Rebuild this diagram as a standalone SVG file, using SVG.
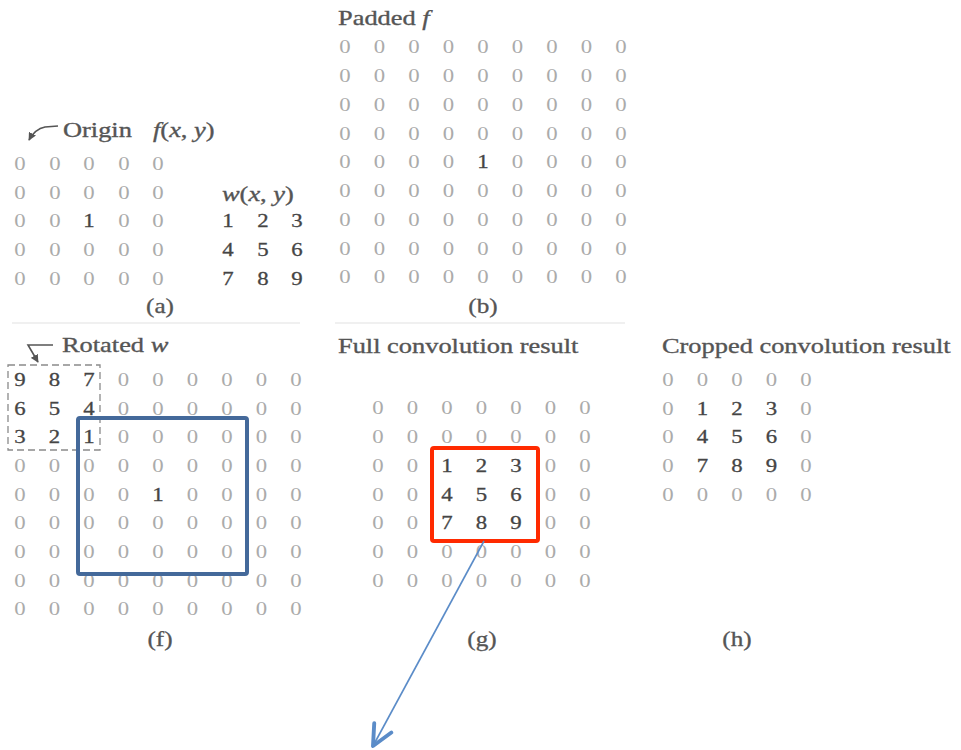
<svg xmlns="http://www.w3.org/2000/svg" width="961" height="750" viewBox="0 0 961 750">
  <style>
    text { font-family: "Liberation Serif", "Times New Roman", serif; }
    .g { font-size: 19px; text-anchor: middle; fill: #ababab; }
    .z { fill: #ababab; }
    .d { fill: #454545; stroke: #454545; stroke-width: 0.3; }
    .lbl { fill: #555555; stroke: #555555; stroke-width: 0.35; font-size: 22px; }
    .cap { fill: #555555; stroke: #555555; stroke-width: 0.3; font-size: 21px; text-anchor: middle; }
    .it { font-style: italic; }
    .dash { fill: none; stroke: #8a8a8a; stroke-width: 1.3; stroke-dasharray: 7 4; }
    .pointer { fill: none; stroke: #555; stroke-width: 1.6; }
  </style>
  <defs>
    <marker id="tip" viewBox="0 0 10 10" refX="9" refY="5" markerWidth="8" markerHeight="8" markerUnits="userSpaceOnUse" orient="auto">
      <path d="M0,0 L10,5 L0,10 Z" fill="#555"/>
    </marker>
    <marker id="vee" viewBox="0 0 12 12" refX="11" refY="6" markerWidth="26" markerHeight="26" markerUnits="userSpaceOnUse" orient="auto">
      <path d="M1.5,1.5 L11,6 L1.5,10.5" fill="none" stroke="#5b8cc8" stroke-width="1.8" stroke-linecap="round" stroke-linejoin="round"/>
    </marker>
  </defs>
  <rect width="961" height="750" fill="#ffffff"/>

  <!-- faint rule between the two rows of panels -->
  <line x1="12" y1="323" x2="300" y2="323" stroke="#f0f0f0" stroke-width="2"/>
  <line x1="335" y1="323" x2="625" y2="323" stroke="#f0f0f0" stroke-width="2"/>

  <!-- (a) f(x,y) and w(x,y) -->
  <g id="panel-a">
    <path class="pointer" d="M58,126 L45,127 Q35,129 29,140" marker-end="url(#tip)"/>
    <g transform="scale(1.2 1)">
      <text class="lbl" x="52.5" y="137">Origin</text>
      <text class="lbl" x="127.5" y="137"><tspan class="it">f</tspan>(<tspan class="it">x</tspan>, <tspan class="it">y</tspan>)</text>
      <text class="g" x="16.67 45.83 74.17 103.33 131.67" y="170.5">00000</text>
      <text class="g" x="16.67 45.83 74.17 103.33 131.67" y="199.5">00000</text>
      <text class="g" y="227.5"><tspan class="z" x="16.67 45.83">00</tspan><tspan class="d" x="74.17">1</tspan><tspan class="z" x="103.33 131.67">00</tspan></text>
      <text class="g" x="16.67 45.83 74.17 103.33 131.67" y="256.5">00000</text>
      <text class="g" x="16.67 45.83 74.17 103.33 131.67" y="285.5">00000</text>
      <text class="lbl" x="185" y="201"><tspan class="it">w</tspan>(<tspan class="it">x</tspan>, <tspan class="it">y</tspan>)</text>
      <text class="g" y="227.5"><tspan class="d" x="190 219.17 247.5">123</tspan></text>
      <text class="g" y="256.5"><tspan class="d" x="190 219.17 247.5">456</tspan></text>
      <text class="g" y="285.5"><tspan class="d" x="190 219.17 247.5">789</tspan></text>
      <text class="cap" x="133.33" y="313">(a)</text>
    </g>
  </g>

  <!-- (b) padded f -->
  <g id="panel-b">
    <g transform="scale(1.2 1)">
      <text class="lbl" x="281.67" y="25">Padded <tspan class="it">f</tspan></text>
      <text class="g" x="287.5 316.25 345 373.75 402.5 431.25 460 488.75 517.5" y="53.5">000000000</text>
      <text class="g" x="287.5 316.25 345 373.75 402.5 431.25 460 488.75 517.5" y="82.25">000000000</text>
      <text class="g" x="287.5 316.25 345 373.75 402.5 431.25 460 488.75 517.5" y="111">000000000</text>
      <text class="g" x="287.5 316.25 345 373.75 402.5 431.25 460 488.75 517.5" y="139.75">000000000</text>
      <text class="g" y="168.5"><tspan class="z" x="287.5 316.25 345 373.75">0000</tspan><tspan class="d" x="402.5">1</tspan><tspan class="z" x="431.25 460 488.75 517.5">0000</tspan></text>
      <text class="g" x="287.5 316.25 345 373.75 402.5 431.25 460 488.75 517.5" y="197.25">000000000</text>
      <text class="g" x="287.5 316.25 345 373.75 402.5 431.25 460 488.75 517.5" y="226">000000000</text>
      <text class="g" x="287.5 316.25 345 373.75 402.5 431.25 460 488.75 517.5" y="254.75">000000000</text>
      <text class="g" x="287.5 316.25 345 373.75 402.5 431.25 460 488.75 517.5" y="283.5">000000000</text>
      <text class="cap" x="402.5" y="313">(b)</text>
    </g>
  </g>

  <!-- (f) rotated w over padded f -->
  <g id="panel-f">
    <path class="pointer" d="M53,345 L28,345 L38,362" marker-end="url(#tip)"/>
    <rect class="dash" x="8" y="365" width="92" height="85"/>
    <g transform="scale(1.2 1)">
      <text class="lbl" x="51.67" y="352">Rotated <tspan class="it">w</tspan></text>
      <text class="g" y="386.5"><tspan class="d" x="16.67 45.42 74.17">987</tspan><tspan class="z" x="102.92 131.67 160.42 189.17 217.92 246.67">000000</tspan></text>
      <text class="g" y="415.5"><tspan class="d" x="16.67 45.42 74.17">654</tspan><tspan class="z" x="102.92 131.67 160.42 189.17 217.92 246.67">000000</tspan></text>
      <text class="g" y="443.5"><tspan class="d" x="16.67 45.42 74.17">321</tspan><tspan class="z" x="102.92 131.67 160.42 189.17 217.92 246.67">000000</tspan></text>
      <text class="g" x="16.67 45.42 74.17 102.92 131.67 160.42 189.17 217.92 246.67" y="472.5">000000000</text>
      <text class="g" y="501.5"><tspan class="z" x="16.67 45.42 74.17 102.92">0000</tspan><tspan class="d" x="131.67">1</tspan><tspan class="z" x="160.42 189.17 217.92 246.67">0000</tspan></text>
      <text class="g" x="16.67 45.42 74.17 102.92 131.67 160.42 189.17 217.92 246.67" y="529.5">000000000</text>
      <text class="g" x="16.67 45.42 74.17 102.92 131.67 160.42 189.17 217.92 246.67" y="558.5">000000000</text>
      <text class="g" x="16.67 45.42 74.17 102.92 131.67 160.42 189.17 217.92 246.67" y="587.5">000000000</text>
      <text class="g" x="16.67 45.42 74.17 102.92 131.67 160.42 189.17 217.92 246.67" y="615.5">000000000</text>
      <text class="cap" x="133.33" y="646">(f)</text>
    </g>
    <rect x="78" y="418" width="169" height="156" rx="2" fill="none" stroke="#44699a" stroke-width="4"/>
  </g>

  <!-- (g) full convolution result -->
  <g id="panel-g">
    <g transform="scale(1.2 1)">
      <text class="lbl" x="281.67" y="353">Full convolution result</text>
      <text class="g" x="315 343.75 372.5 401.25 430 458.75 487.5" y="414.5">0000000</text>
      <text class="g" x="315 343.75 372.5 401.25 430 458.75 487.5" y="443.5">0000000</text>
      <text class="g" y="472.5"><tspan class="z" x="315 343.75">00</tspan><tspan class="d" x="372.5 401.25 430">123</tspan><tspan class="z" x="458.75 487.5">00</tspan></text>
      <text class="g" y="501.5"><tspan class="z" x="315 343.75">00</tspan><tspan class="d" x="372.5 401.25 430">456</tspan><tspan class="z" x="458.75 487.5">00</tspan></text>
      <text class="g" y="529.5"><tspan class="z" x="315 343.75">00</tspan><tspan class="d" x="372.5 401.25 430">789</tspan><tspan class="z" x="458.75 487.5">00</tspan></text>
      <text class="g" x="315 343.75 372.5 401.25 430 458.75 487.5" y="558.5">0000000</text>
      <text class="g" x="315 343.75 372.5 401.25 430 458.75 487.5" y="587.5">0000000</text>
      <text class="cap" x="401.67" y="646">(g)</text>
    </g>
    <rect x="432" y="448" width="106" height="93" rx="2" fill="none" stroke="#ff2a00" stroke-width="4"/>
  </g>

  <!-- (h) cropped convolution result -->
  <g id="panel-h">
    <g transform="scale(1.2 1)">
      <text class="lbl" x="551.67" y="353">Cropped convolution result</text>
      <text class="g" x="556.67 585.42 614.17 642.92 671.67" y="386.5">00000</text>
      <text class="g" y="415.5"><tspan class="z" x="556.67">0</tspan><tspan class="d" x="585.42 614.17 642.92">123</tspan><tspan class="z" x="671.67">0</tspan></text>
      <text class="g" y="443.5"><tspan class="z" x="556.67">0</tspan><tspan class="d" x="585.42 614.17 642.92">456</tspan><tspan class="z" x="671.67">0</tspan></text>
      <text class="g" y="472.5"><tspan class="z" x="556.67">0</tspan><tspan class="d" x="585.42 614.17 642.92">789</tspan><tspan class="z" x="671.67">0</tspan></text>
      <text class="g" x="556.67 585.42 614.17 642.92 671.67" y="501.5">00000</text>
      <text class="cap" x="614.17" y="646">(h)</text>
    </g>
  </g>

  <!-- connector leaving the red crop window -->
  <g id="connectors">
    <line x1="484" y1="541" x2="373" y2="746" stroke="#5b8cc8" stroke-width="1.6" marker-end="url(#vee)"/>
  </g>
</svg>
